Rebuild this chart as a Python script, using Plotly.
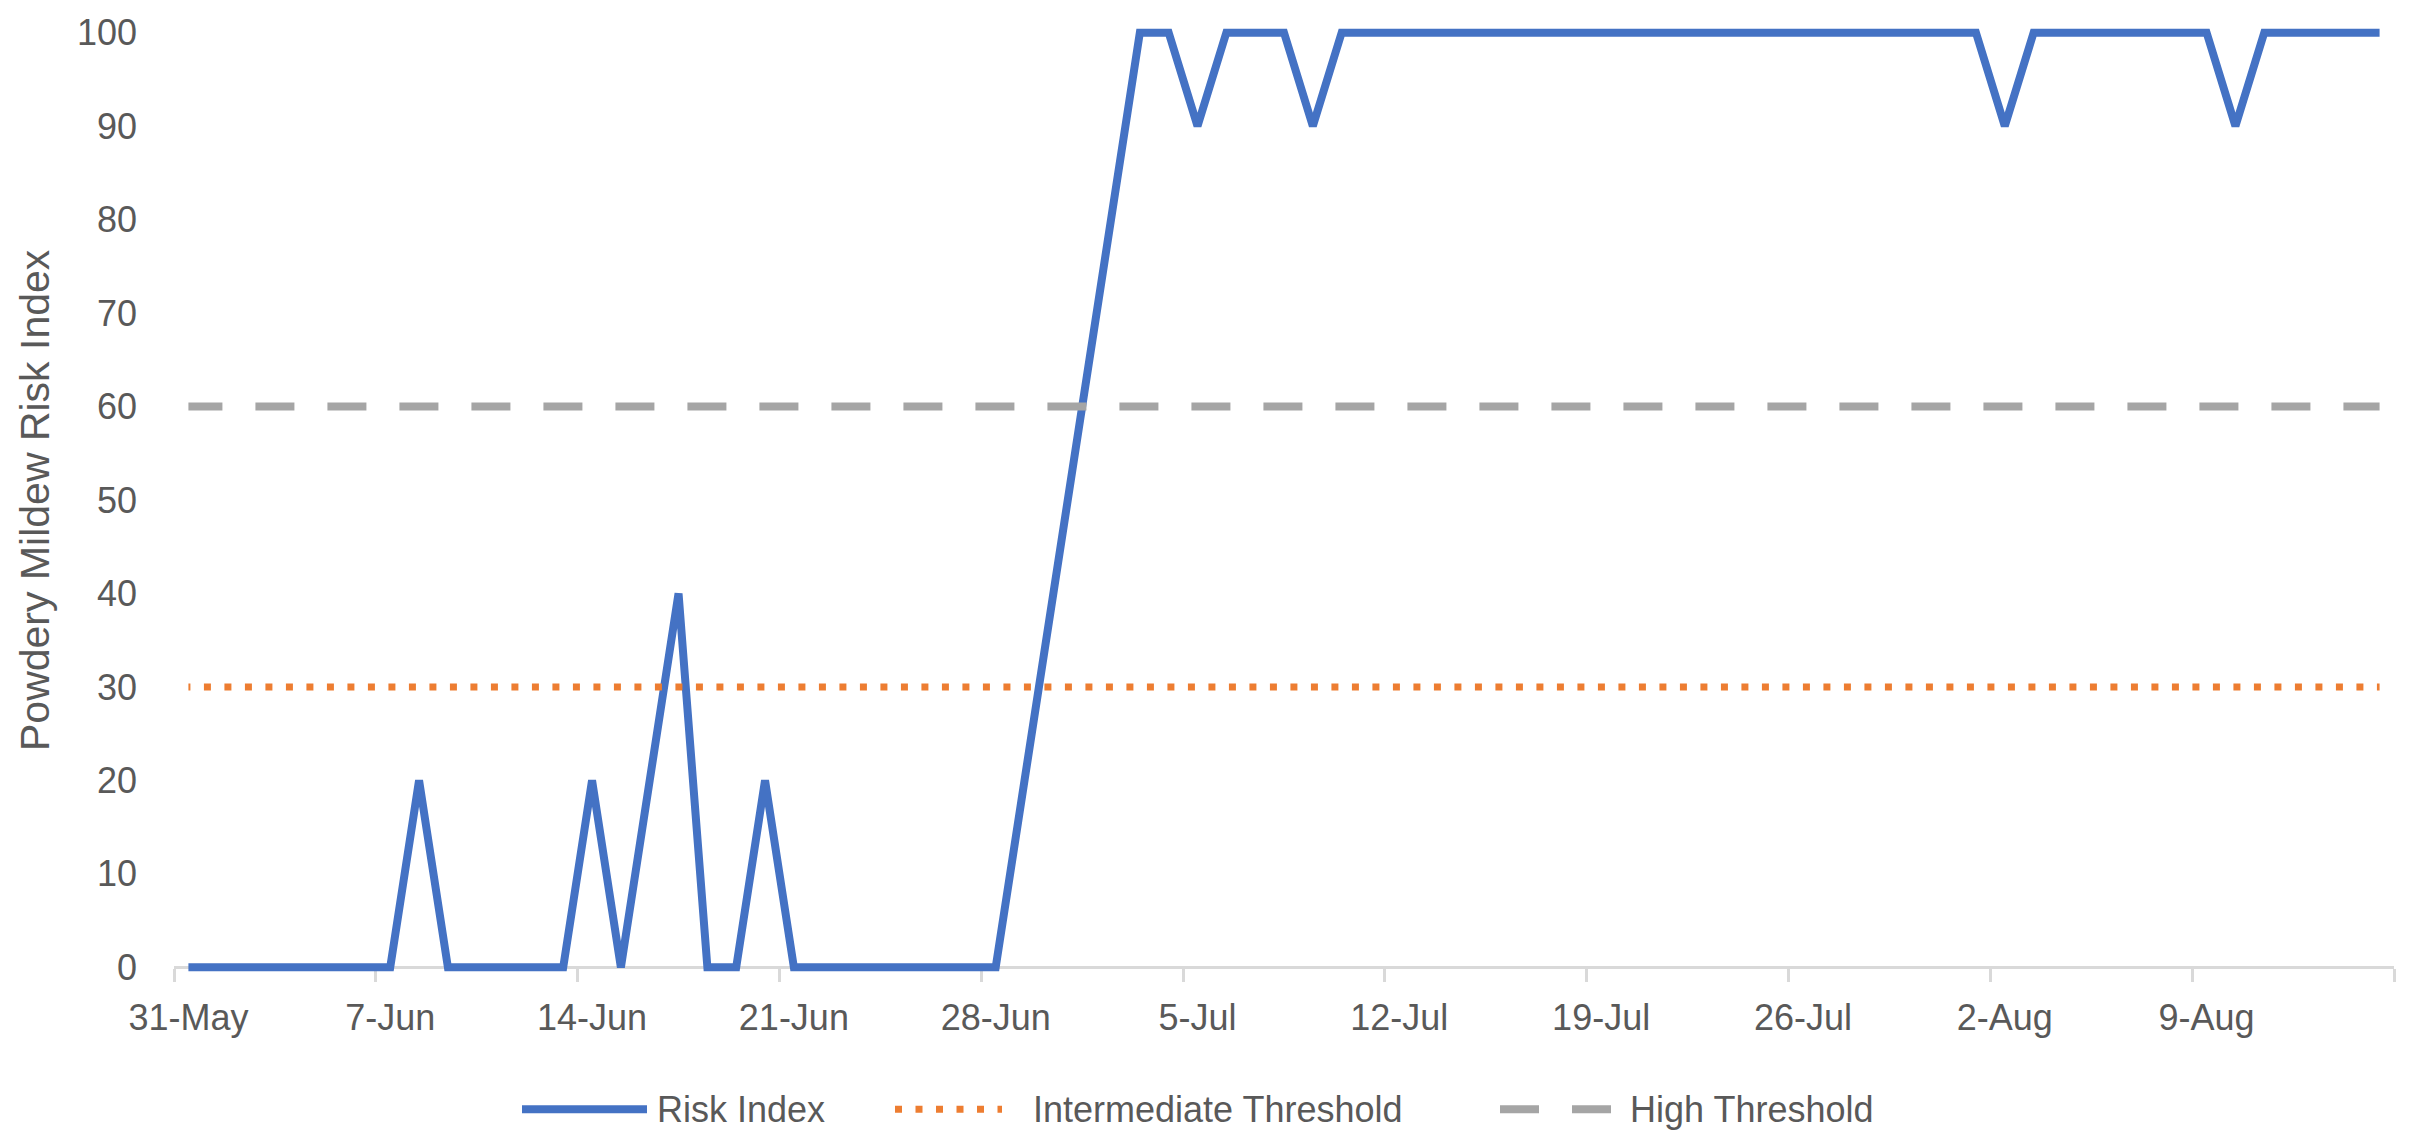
import pandas as pd
import plotly.graph_objects as go

# ---------------- data ----------------
dates = pd.date_range("2023-05-31", "2023-08-15", freq="D")

risk_index = [
    0, 0, 0, 0, 0, 0, 0, 0,          # 31-May .. 7-Jun
    20, 0, 0, 0, 0, 0,               # 8-Jun .. 13-Jun
    20, 0, 20, 40, 0, 0, 20,         # 14-Jun .. 20-Jun
    0, 0, 0, 0, 0, 0, 0, 0,          # 21-Jun .. 28-Jun
    20, 40, 60, 80, 100, 100,        # 29-Jun .. 4-Jul
    90, 100, 100, 100, 90,           # 5-Jul .. 9-Jul
    100, 100, 100, 100, 100, 100, 100, 100, 100, 100, 100, 100,   # 10-Jul .. 21-Jul
    100, 100, 100, 100, 100, 100, 100, 100, 100, 100, 100,        # 22-Jul .. 1-Aug
    90, 100, 100, 100, 100, 100, 100, 100,                        # 2-Aug .. 9-Aug
    90, 100, 100, 100, 100, 100,                                  # 10-Aug .. 15-Aug
]
intermediate_threshold = [30] * len(dates)
high_threshold = [60] * len(dates)

tick_dates = ["2023-05-31", "2023-06-07", "2023-06-14", "2023-06-21", "2023-06-28",
              "2023-07-05", "2023-07-12", "2023-07-19", "2023-07-26", "2023-08-02",
              "2023-08-09"]
tick_labels = ["31-May", "7-Jun", "14-Jun", "21-Jun", "28-Jun", "5-Jul",
               "12-Jul", "19-Jul", "26-Jul", "2-Aug", "9-Aug"]
y_ticks = [0, 10, 20, 30, 40, 50, 60, 70, 80, 90, 100]

series_names = ["Risk Index", "Intermediate Threshold", "High Threshold"]
y_title = "Powdery Mildew Risk Index"

# ---------------- styling ----------------
W, H = 2417, 1130
ML, MR, MT, MB = 174, 23, 22, 158
PW, PH = W - ML - MR, H - MT - MB
FONT = "Liberation Sans, Arial, sans-serif"
TXT = "#595959"
BLUE, ORANGE, GRAY, AXIS = "#4472C4", "#ED7D31", "#A5A5A5", "#D9D9D9"

half_day = pd.Timedelta(hours=12)
x_range = [dates[0] - half_day, dates[-1] + half_day]
slot_edges = [pd.Timestamp(d) - half_day for d in tick_dates] + [dates[-1] + half_day]
y_range = [-0.5, 100.5]


def px_x(p):
    return (p - ML) / PW


def px_y(p):
    return (MT + PH - p) / PH


y0_px = MT + PH - (0 - y_range[0]) / (y_range[1] - y_range[0]) * PH

fig = go.Figure()
fig.add_trace(go.Scatter(x=dates, y=risk_index, name=series_names[0], mode="lines",
                         line=dict(color=BLUE, width=8), showlegend=False))
fig.add_trace(go.Scatter(x=dates, y=intermediate_threshold, name=series_names[1], mode="lines",
                         line=dict(color=ORANGE, width=7, dash="2px,13.5px,5px,0px"),
                         showlegend=False))
fig.add_trace(go.Scatter(x=dates, y=high_threshold, name=series_names[2], mode="lines",
                         line=dict(color=GRAY, width=8, dash="34px,33px,5px,0px"),
                         showlegend=False))

fig.update_layout(
    width=W, height=H,
    margin=dict(l=ML, r=MR, t=MT, b=MB, pad=0),
    paper_bgcolor="white", plot_bgcolor="white",
    font=dict(family=FONT, size=36, color=TXT),
    showlegend=False,
    xaxis=dict(
        type="date", range=x_range, anchor="free",
        position=(MT + PH - y0_px) / PH,
        showgrid=False, zeroline=False,
        showline=True, linecolor=AXIS, linewidth=3, layer="below traces",
        tickmode="array", tickvals=tick_dates, ticktext=tick_labels,
        ticks="", ticklabelstandoff=17,
        tickfont=dict(family=FONT, size=36, color=TXT),
        minor=dict(tickmode="array", tickvals=slot_edges, ticks="outside",
                   ticklen=13, tickwidth=3, tickcolor=AXIS, showgrid=False),
    ),
    yaxis=dict(
        range=y_range, tickmode="array", tickvals=y_ticks,
        showgrid=False, zeroline=False, showline=False, ticks="",
        ticklabelstandoff=36,
        tickfont=dict(family=FONT, size=36, color=TXT),
    ),
)

# axis title
fig.add_annotation(text=y_title, xref="paper", yref="paper",
                   x=px_x(35), y=px_y(497), xanchor="center", yanchor="middle",
                   textangle=-90, showarrow=False,
                   font=dict(family=FONT, size=41, color=TXT))

# legend (manual, to match long line samples)
leg_y = px_y(1110)
legend_items = [
    (522, 647, dict(color=BLUE, width=8), 655, series_names[0]),
    (895, 1002, dict(color=ORANGE, width=7, dash="7px,13.5px"), 1031, series_names[1]),
    (1500, 1612, dict(color=GRAY, width=8, dash="39px,33px"), 1628, series_names[2]),
]
for x0, x1, ln, tx, label in legend_items:
    fig.add_shape(type="line", xref="paper", yref="paper",
                  x0=px_x(x0), x1=px_x(x1), y0=leg_y, y1=leg_y, line=ln)
    fig.add_annotation(text=label, xref="paper", yref="paper", x=px_x(tx), y=leg_y,
                       xanchor="left", yanchor="middle", showarrow=False,
                       font=dict(family=FONT, size=36, color=TXT))

fig.write_html("out.html")
